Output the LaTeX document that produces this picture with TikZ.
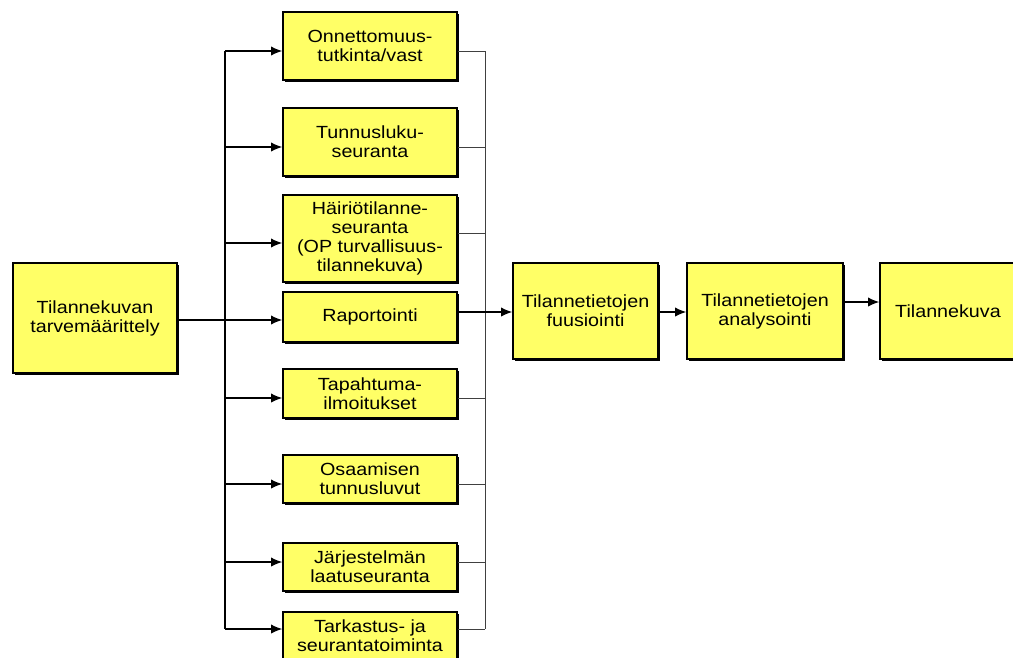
\documentclass[tikz,border=0pt]{standalone}
\usepackage{xcolor}
\usepackage{fontspec}
\setmainfont{Liberation Sans}[FakeStretch=1.12]
\usepackage{tikz}
\usetikzlibrary{arrows}
\usetikzlibrary{arrows.meta}
\usetikzlibrary{shadows}
\tikzset{>=latex}
\definecolor{boxyellow}{RGB}{255,255,102}
\tikzstyle{box} = [rectangle, draw=black, line width=1pt, fill=boxyellow, align=center, inner sep=0pt, font=\fontsize{13.2}{14.25}\selectfont, drop shadow={shadow xshift=1.6pt, shadow yshift=-1.6pt, fill=black, opacity=1}]
\tikzstyle{mid} = [box, minimum width=130.5pt]
\tikzstyle{link} = [-{Latex[length=8.5pt, width=7pt]}, line width=1pt]
\tikzstyle{feed} = [-, draw=black!75, line width=0.7pt]

\begin{document}
\begin{tikzpicture}[x=0.75pt, y=-0.75pt]
\useasboundingbox (0, 0) rectangle (1013, 657);
\node [box, minimum width=123pt, minimum height=82.5pt] (L) at (95, 318) {Tilannekuvan\\tarvemäärittely};
\node [mid, minimum height=51pt] (M1) at (370, 46) {Onnettomuus-\\tutkinta/vast};
\node [mid, minimum height=51pt] (M2) at (370, 142) {Tunnusluku-\\seuranta};
\node [mid, minimum height=65.25pt] (M3) at (370, 238.5) {Häiriötilanne-\\seuranta\\(OP turvallisuus-\\tilannekuva)};
\node [mid, minimum height=37.5pt] (M4) at (370, 317) {Raportointi};
\node [mid, minimum height=36.75pt] (M5) at (370, 393.5) {Tapahtuma-\\ilmoitukset};
\node [mid, minimum height=36pt] (M6) at (370, 479) {Osaamisen\\tunnusluvut};
\node [mid, minimum height=36pt] (M7) at (370, 567) {Järjestelmän\\laatuseuranta};
\node [mid, minimum height=36pt] (M8) at (370, 636) {Tarkastus- ja\\seurantatoiminta};
\node [box, minimum width=108.75pt, minimum height=72pt] (F) at (585.5, 311) {Tilannetietojen\\fuusiointi};
\node [box, minimum width=117pt, minimum height=72pt] (A) at (765, 311) {Tilannetietojen\\analysointi};
\node [box, minimum width=102pt, minimum height=72pt] (T) at (948, 311) {Tilannekuva};
% bus points
\coordinate (a1) at (225, 51);
\coordinate (a2) at (225, 147);
\coordinate (a3) at (225, 243);
\coordinate (a4) at (225, 320);
\coordinate (a5) at (225, 398);
\coordinate (a6) at (225, 484);
\coordinate (a7) at (225, 562);
\coordinate (a8) at (225, 629);
\coordinate (b1) at (485, 51);
\coordinate (b2) at (485, 147);
\coordinate (b3) at (485, 233);
\coordinate (b4) at (485, 312);
\coordinate (b5) at (485, 398);
\coordinate (b6) at (485, 484);
\coordinate (b7) at (485, 562);
\coordinate (b8) at (485, 629);
\coordinate (c1) at (862, 302);
% left side
\draw [line width=1pt] (a1) to (a8);
\draw [line width=1pt] (L.east |- a4) to (a4);
\draw [link] (a1) to (M1.west |- a1);
\draw [link] (a2) to (M2.west |- a2);
\draw [link] (a3) to (M3.west |- a3);
\draw [link] (a4) to (M4.west |- a4);
\draw [link] (a5) to (M5.west |- a5);
\draw [link] (a6) to (M6.west |- a6);
\draw [link] (a7) to (M7.west |- a7);
\draw [link] (a8) to (M8.west |- a8);
% right side
\draw [feed] (b1) to (b8);
\draw [feed] (M1.east |- b1) to (b1);
\draw [feed] (M2.east |- b2) to (b2);
\draw [feed] (M3.east |- b3) to (b3);
\draw [feed] (M5.east |- b5) to (b5);
\draw [feed] (M6.east |- b6) to (b6);
\draw [feed] (M7.east |- b7) to (b7);
\draw [feed] (M8.east |- b8) to (b8);
\draw [link] (M4.east |- b4) to (F.west |- b4);
\draw [link] (F.east |- b4) to (A.west |- b4);
\draw [link] (A.east |- c1) to (T.west |- c1);
\end{tikzpicture}
\end{document}
